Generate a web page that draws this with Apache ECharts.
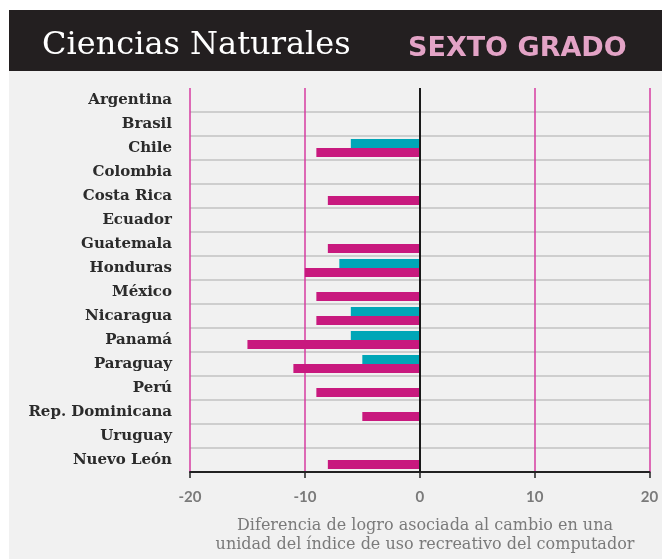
<!DOCTYPE html>
<html>
<head>
<meta charset="utf-8">
<script src="https://cdn.jsdelivr.net/npm/echarts@6/dist/echarts.min.js"></script>
<style>
html, body { margin: 0; padding: 0; background: #fff; }
#chart { width: 662px; height: 559px; }
</style>
</head>
<body>
<div id="chart"></div>
<script>
// paises, de arriba hacia abajo
var paises = ['Argentina', 'Brasil', 'Chile', 'Colombia', 'Costa Rica', 'Ecuador', 'Guatemala', 'Honduras',
	'México', 'Nicaragua', 'Panamá', 'Paraguay', 'Perú', 'Rep. Dominicana', 'Uruguay', 'Nuevo León'];
// barra azul (arriba) y barra magenta (abajo), null = sin barra
var serieAzul = [null, null, -6, null, null, null, null, -7, null, -6, -6, -5, null, null, null, null];
var serieMagenta = [null, null, -9, null, -8, null, -8, -10, -9, -9, -15, -11, -9, -5, null, -8];

var chart = echarts.init(document.getElementById('chart'));

var option = {
	backgroundColor: '#ffffff',
	animation: false,
	graphic: [
		{ type: 'rect', z: -10, shape: { x: 9, y: 71, width: 653, height: 488 }, style: { fill: '#f1f1f1' } },
		{ type: 'rect', z: -10, shape: { x: 9, y: 10, width: 653, height: 61 }, style: { fill: '#231f20' } }
	],
	title: [
		{
			text: 'Ciencias Naturales',
			left: 37, top: 25,
			textStyle: { color: '#ffffff', fontFamily: 'DejaVu Serif', fontWeight: 'normal', fontSize: 32 }
		},
		{
			text: 'SEXTO GRADO',
			left: 403, top: 30,
			textStyle: { color: '#e3a3c6', fontFamily: 'DejaVu Sans', fontWeight: 'bold', fontSize: 27 }
		},
		{
			text: 'Diferencia de logro asociada al cambio en una\nunidad del índice de uso recreativo del computador',
			left: 420, top: 511, textAlign: 'center',
			textStyle: { color: '#7a7a7a', fontFamily: 'DejaVu Serif', fontWeight: 'normal', fontSize: 16, lineHeight: 19 }
		}
	],
	grid: { left: 190, right: 12.5, top: 88, bottom: 87, containLabel: false },
	xAxis: {
		type: 'value',
		min: -20, max: 20, interval: 10,
		axisLine: { show: true, onZero: false, lineStyle: { color: '#222', width: 2 } },
		axisTick: { show: true, length: 6, lineStyle: { color: '#222', width: 1.5 } },
		axisLabel: { margin: 18, color: '#7a7a7a', fontFamily: 'Lato', fontWeight: 'bold', fontSize: 15 },
		splitLine: { show: true, lineStyle: { color: '#d63ba0', width: 1.5 } }
	},
	yAxis: {
		type: 'category',
		inverse: true,
		data: paises,
		axisLine: { show: false },
		axisTick: { show: false },
		axisLabel: { margin: 18, color: '#2b2b2b', fontFamily: 'DejaVu Serif', fontWeight: 'bold', fontSize: 15 },
		splitLine: { show: true, showMinLine: false, lineStyle: { color: '#c2c2c2', width: 1.5 } }
	},
	series: [
		{
			name: 'azul',
			type: 'bar',
			data: serieAzul,
			barWidth: 9,
			barGap: '0%',
			itemStyle: { color: '#00a6b7' },
			markLine: {
				silent: true, symbol: 'none', label: { show: false },
				lineStyle: { color: '#1a1a1a', width: 2, type: 'solid' },
				data: [{ xAxis: 0 }]
			}
		},
		{
			name: 'magenta',
			type: 'bar',
			data: serieMagenta,
			barWidth: 9,
			barGap: '0%',
			itemStyle: { color: '#c8197e' }
		}
	]
};
chart.setOption(option);
</script>
</body>
</html>
